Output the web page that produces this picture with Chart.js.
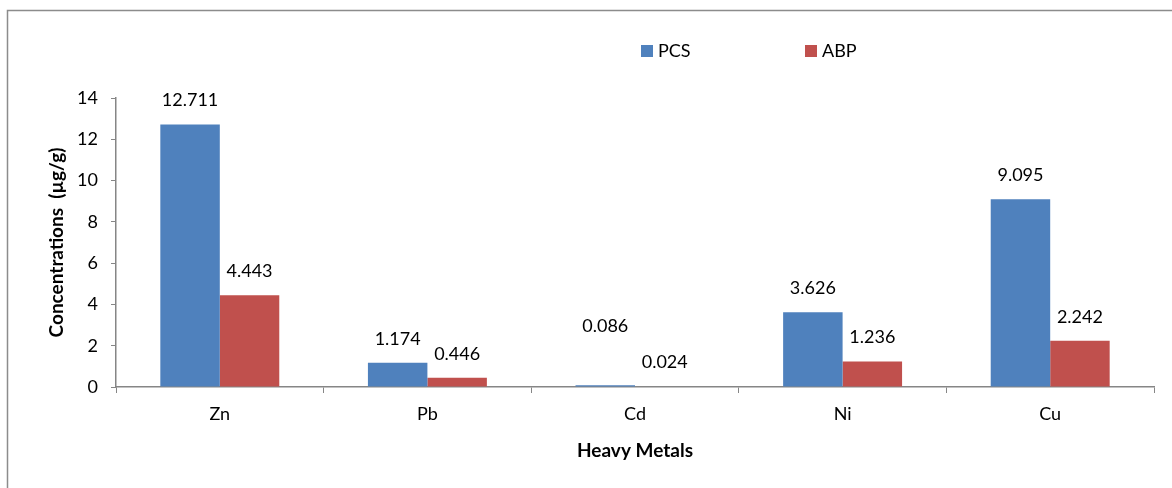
<!DOCTYPE html>
<html lang="en">
<head>
    <meta charset="UTF-8">
    <title>Heavy Metals</title>
    <script src="https://cdn.jsdelivr.net/npm/chart.js@4.4.0/dist/chart.umd.min.js"></script>
    <style>
        html, body { margin: 0; padding: 0; background: #fff; }
        #wrap { width: 1172px; height: 488px; }
    </style>
</head>
<body>
<div id="wrap"><canvas id="myChart" width="1172" height="488"></canvas></div>
<script>
    var metals = ["Zn", "Pb", "Cd", "Ni", "Cu"];
    var pcs = [12.711, 1.174, 0.086, 3.626, 9.095];
    var abp = [4.443, 0.446, 0.024, 1.236, 2.242];
    var seriesNames = ["PCS", "ABP"];

    var FONT = "Lato, 'Open Sans', sans-serif";
    var axisGrey = "#868686";

    // frame line round the figure (left and top are the visible ones)
    var framePlugin = {
        id: "frame",
        beforeDraw: function(chart){
            var c = chart.ctx;
            c.save();
            c.strokeStyle = "#8c8c8c";
            c.lineWidth = 1.5;
            c.beginPath();
            c.moveTo(7.5, chart.height);
            c.lineTo(7.5, 10.5);
            c.lineTo(chart.width, 10.5);
            c.stroke();
            c.restore();
        }
    };

    // value labels over the bars
    var labelPlugin = {
        id: "barLabels",
        afterDatasetsDraw: function(chart){
            var c = chart.ctx;
            c.save();
            c.font = "18px " + FONT;
            c.fillStyle = "#000";
            c.textAlign = "center";
            c.textBaseline = "middle";
            var m0 = chart.getDatasetMeta(0), m1 = chart.getDatasetMeta(1);
            for (var i = 0; i < metals.length; i++) {
                var b0 = m0.data[i], b1 = m1.data[i];
                var y0 = b0.y - 24, y1 = b1.y - 24;
                // labels nearly level get pushed apart, like the source does
                if (Math.abs(y0 - y1) < 10) y0 -= 35;
                c.fillText(pcs[i].toFixed(3), b0.x, y0);
                c.fillText(abp[i].toFixed(3), b1.x, y1);
            }
            c.restore();
        }
    };

    // legend drawn by hand so it can sit where the source has it
    var legendPlugin = {
        id: "myLegend",
        afterDraw: function(chart){
            var c = chart.ctx;
            var xs = [641, 805];
            c.save();
            c.font = "18px " + FONT;
            c.textBaseline = "middle";
            chart.data.datasets.forEach(function(ds, k){
                c.fillStyle = ds.backgroundColor;
                c.fillRect(xs[k], 45, 12, 12);
                c.fillStyle = "#000";
                c.fillText(ds.label, xs[k] + 17, 51);
            });
            c.restore();
        }
    };

    var ctx = document.getElementById("myChart");
    var myChart = new Chart(ctx, {
        type: "bar",
        data: {
            labels: metals,
            datasets: [
                { label: seriesNames[0], data: pcs, backgroundColor: "#4F81BD", borderWidth: 0 },
                { label: seriesNames[1], data: abp, backgroundColor: "#C0504D", borderWidth: 0 }
            ]
        },
        options: {
            responsive: false,
            animation: false,
            devicePixelRatio: 1,
            layout: { padding: { top: 98, right: 18, left: 0, bottom: 0 } },
            datasets: { bar: { categoryPercentage: 0.573, barPercentage: 1.0 } },
            plugins: {
                legend: { display: false },
                tooltip: { enabled: false }
            },
            scales: {
                x: {
                    grid: { display: true, drawOnChartArea: false, offset: true, color: axisGrey, tickLength: 6, tickColor: axisGrey },
                    border: { color: axisGrey, width: 1.5 },
                    ticks: { color: "#000", font: { family: FONT, size: 18 }, padding: 10 },
                    title: { display: true, text: "Heavy Metals", color: "#000", font: { family: FONT, size: 19, weight: "bold" }, padding: { top: 10, bottom: 26 } },
                    afterFit: function(s){ s.height = 101; }
                },
                y: {
                    min: 0,
                    max: 14,
                    ticks: { stepSize: 2, color: "#000", font: { family: FONT, size: 18 }, padding: 13 },
                    grid: { display: true, drawOnChartArea: false, color: axisGrey, tickLength: 5, tickColor: axisGrey },
                    border: { color: axisGrey, width: 1.5 },
                    title: { display: true, text: "Concentrations  (µg/g)", color: "#000", font: { family: FONT, size: 19, weight: "bold" }, padding: { top: 45, bottom: 8 } },
                    afterFit: function(s){ s.width = 116; }
                }
            }
        },
        plugins: [framePlugin, labelPlugin, legendPlugin]
    });
</script>
</body>
</html>
